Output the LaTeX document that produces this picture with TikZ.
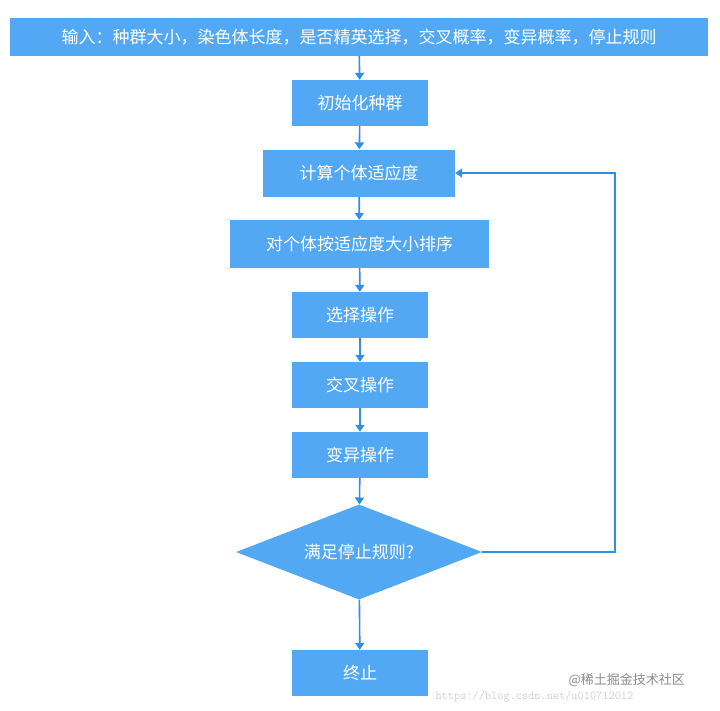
\documentclass[tikz,border=0pt]{standalone}
\usepackage{fontspec}
\setmainfont{Noto Sans CJK SC}
\usetikzlibrary{shapes.geometric,arrows.meta}
\definecolor{bx}{HTML}{52A8F3}
\definecolor{ln}{HTML}{2E8FE3}
\begin{document}
\begin{tikzpicture}[x=1pt,y=-1pt,
  box/.style={fill=bx,draw=none,text=white,font=\fontsize{17}{19}\selectfont,inner sep=0,anchor=center},
  arr/.style={draw=ln,line width=1.6pt,-{Triangle[length=7pt,width=9pt]}}]
\useasboundingbox[fill=white] (0,0) rectangle (720,710);
\node[box,minimum width=698,minimum height=38] (in) at (359,37) {输入：种群大小，染色体长度，是否精英选择，交叉概率，变异概率，停止规则};
\node[box,minimum width=136,minimum height=46] (init) at (360,103) {初始化种群};
\node[box,minimum width=192,minimum height=47] (fit) at (359,173) {计算个体适应度};
\node[box,minimum width=259,minimum height=48] (sort) at (359.5,244) {对个体按适应度大小排序};
\node[box,minimum width=136,minimum height=46] (sel) at (360,315) {选择操作};
\node[box,minimum width=136,minimum height=46] (cro) at (360,385) {交叉操作};
\node[box,minimum width=136,minimum height=46] (mut) at (360,455) {变异操作};
\node[box,diamond,aspect=2.6,minimum width=246,minimum height=95] (dec) at (359,552) {满足停止规则?};
\node[box,minimum width=136,minimum height=46] (end) at (360,673) {终止};
\coordinate (c1) at (615,552);
\coordinate (c2) at (615,173);
\draw[arr] (in) -- (init);
\draw[arr] (init) -- (fit);
\draw[arr] (fit) -- (sort);
\draw[arr] (sort) -- (sel);
\draw[arr] (sel) -- (cro);
\draw[arr] (cro) -- (mut);
\draw[arr] (mut) -- (dec);
\draw[arr] (dec) -- (end);
\draw[arr] (dec.east) -- (c1) -- (c2) -- (fit.east);
\node[text=black!18,font=\fontsize{12}{13}\selectfont\ttfamily,anchor=west] (wm1) at (432,697) {https://blog.csdn.net/u010712012};
\node[text=black!45,font=\fontsize{13}{14}\selectfont,anchor=west] (wm2) at (565,680) {@稀土掘金技术社区};
\end{tikzpicture}
\end{document}
